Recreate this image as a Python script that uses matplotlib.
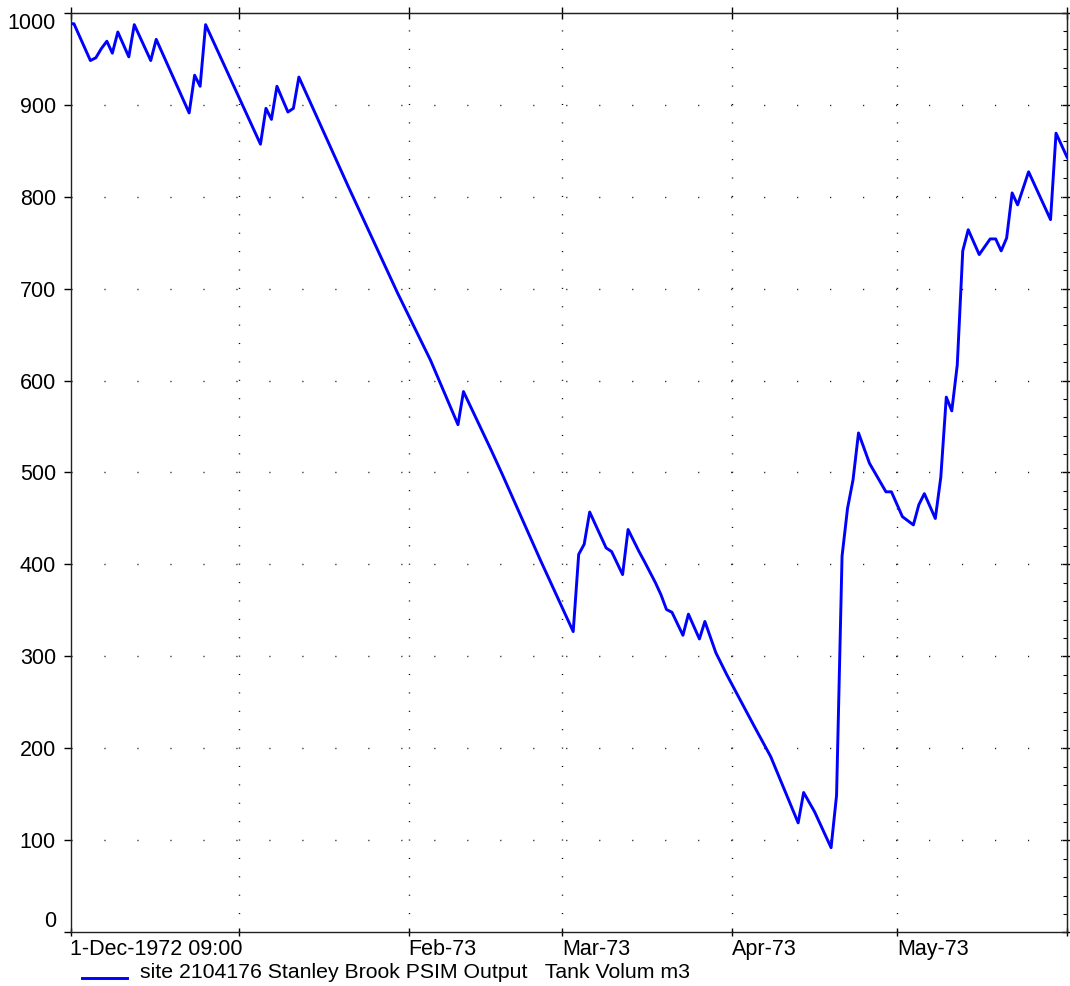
import matplotlib
matplotlib.use('Agg')
import matplotlib.pyplot as plt
import matplotlib.dates as mdates
from matplotlib.lines import Line2D
import pandas as pd

plt.rcParams['font.family'] = ['Liberation Sans', 'DejaVu Sans']
plt.rcParams['lines.scale_dashes'] = False

# tank volume (m3), breakpoints
dates = ['1972-12-01 09:00', '1972-12-02', '1972-12-05', '1972-12-06', '1972-12-07',
         '1972-12-08', '1972-12-09', '1972-12-10', '1972-12-12', '1972-12-13',
         '1972-12-16', '1972-12-17', '1972-12-23', '1972-12-24', '1972-12-25',
         '1972-12-26', '1973-01-05', '1973-01-06', '1973-01-07', '1973-01-08',
         '1973-01-10', '1973-01-11', '1973-01-12', '1973-01-21', '1973-01-30',
         '1973-02-05', '1973-02-10', '1973-02-11', '1973-02-16', '1973-02-18',
         '1973-02-25', '1973-03-03', '1973-03-04', '1973-03-05', '1973-03-06',
         '1973-03-09', '1973-03-10', '1973-03-12', '1973-03-13', '1973-03-15',
         '1973-03-16', '1973-03-18', '1973-03-19', '1973-03-20', '1973-03-21',
         '1973-03-23', '1973-03-24', '1973-03-26', '1973-03-27', '1973-03-29',
         '1973-03-31', '1973-04-05', '1973-04-08', '1973-04-13', '1973-04-14',
         '1973-04-16', '1973-04-19', '1973-04-20', '1973-04-21', '1973-04-22',
         '1973-04-23', '1973-04-24', '1973-04-26', '1973-04-29', '1973-04-30',
         '1973-05-02', '1973-05-04', '1973-05-05', '1973-05-06', '1973-05-08',
         '1973-05-09', '1973-05-10', '1973-05-11', '1973-05-12', '1973-05-13',
         '1973-05-14', '1973-05-16', '1973-05-18', '1973-05-19', '1973-05-20',
         '1973-05-21', '1973-05-22', '1973-05-23', '1973-05-25', '1973-05-29',
         '1973-05-30', '1973-06-01']
volume = [988, 988, 948, 951, 961,
          969, 956, 979, 952, 987,
          948, 971, 891, 932, 920,
          987, 857, 896, 884, 920,
          892, 896, 930, 811, 695,
          622, 552, 588, 525, 499,
          405, 327, 411, 422, 457,
          418, 414, 389, 438, 414,
          403, 380, 367, 351, 348,
          323, 346, 319, 338, 304,
          280, 224, 191, 119, 152,
          131, 92, 149, 409, 461,
          492, 543, 510, 479, 479,
          452, 443, 465, 477, 450,
          495, 582, 567, 617, 741,
          764, 737, 754, 754, 741,
          755, 804, 791, 827, 775,
          869, 843]

x_start = pd.Timestamp('1972-12-01 09:00')
x_end = pd.Timestamp('1973-06-01 00:00')
month_ticks = ['1973-01-01', '1973-02-01', '1973-03-01', '1973-04-01', '1973-05-01']
tick_labels = ['1-Dec-1972 09:00', '', 'Feb-73', 'Mar-73', 'Apr-73', 'May-73', '']
series_label = 'site 2104176 Stanley Brook PSIM Output   Tank Volum m3'

W, H = 1070, 986
fig = plt.figure(figsize=(W / 100, H / 100), dpi=100)
ax = fig.add_axes([70.5 / W, (H - 932.3) / H, (1067 - 70.5) / W, (932.3 - 12.7) / H])

t = pd.to_datetime(dates, format='mixed')
line_color = '#0000ff'
ax.plot(t, volume, color=line_color, lw=2.1, zorder=3)

ax.set_xlim(x_start, x_end)
ax.set_ylim(0, 1000)

# sparse dotted grid
for m in month_ticks:
    ax.axvline(pd.Timestamp(m), color='black', lw=1.0, linestyle=(0, (0.75, 12.49)), zorder=1)
for v in range(100, 1000, 100):
    ax.axhline(v, color='black', lw=1.0, linestyle=(0, (0.75, 23.0)), zorder=1)

xt = [x_start] + [pd.Timestamp(m) for m in month_ticks] + [x_end]
xt_num = [mdates.date2num(d) for d in xt]
ax.set_xticks(xt_num)
ax.set_xticklabels(tick_labels, ha='left')
ax.tick_params(axis='x', direction='inout', length=6, width=1, pad=2, labelsize=15.5)

yt = list(range(0, 1001, 100))
ax.set_yticks(yt)
ax.set_yticklabels([str(v) for v in yt])
ax.tick_params(axis='y', direction='out', length=5, width=1, pad=5.5, labelsize=15.5)
ylabels = ax.get_yticklabels()
ylabels[0].set_verticalalignment('bottom')
ylabels[-1].set_verticalalignment('top')

# right and top ticks
right = ax.secondary_yaxis('right')
right.set_yticks(yt)
right.set_yticks(list(range(0, 1001, 20)), minor=True)
right.tick_params(which='major', direction='inout', length=7, width=1, labelright=False)
right.tick_params(which='minor', direction='in', length=3, width=0.8)
right.spines['right'].set_color('#222222')

top = ax.secondary_xaxis('top')
top.set_xticks(xt_num)
top.tick_params(direction='inout', length=8, width=1, labeltop=False)
top.spines['top'].set_color('#222222')

for s in ax.spines.values():
    s.set_color('#222222')
    s.set_linewidth(1.0)

# legend below the axis
fig.add_artist(Line2D([81.7 / W, 126.7 / W], [1 - 978.3 / H] * 2, color=line_color, lw=2.1))
fig.text(140 / W, 1 - 977.5 / H, series_label, fontsize=15.3, ha='left', va='baseline')

fig.savefig('out.png', dpi=100)
